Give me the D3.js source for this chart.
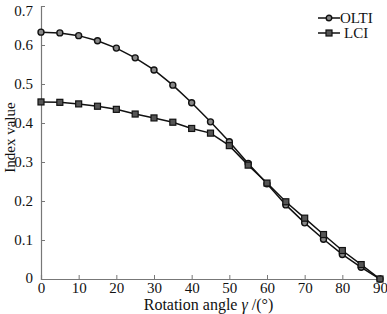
<!DOCTYPE html>
<html>
<head>
<meta charset="utf-8">
<script src="https://cdn.jsdelivr.net/npm/d3@7"></script>
<style>
  body { margin: 0; background: #fff; }
  text { font-family: "Liberation Serif", "DejaVu Serif", serif; fill: #111; }
</style>
</head>
<body>
<div id="chart"></div>
<script>
// data
var angles = [0, 5, 10, 15, 20, 25, 30, 35, 40, 45, 50, 55, 60, 65, 70, 75, 80, 85, 90];
var olti = [0.633, 0.631, 0.624, 0.611, 0.592, 0.567, 0.536, 0.497, 0.452, 0.403, 0.352, 0.296, 0.244, 0.190, 0.144, 0.102, 0.063, 0.030, 0.0];
var lci  = [0.454, 0.453, 0.449, 0.443, 0.435, 0.423, 0.413, 0.402, 0.386, 0.374, 0.342, 0.292, 0.246, 0.198, 0.156, 0.114, 0.073, 0.037, 0.0];
var xTicks = [0, 10, 20, 30, 40, 50, 60, 70, 80, 90];
var yTicks = [0, 0.1, 0.2, 0.3, 0.4, 0.5, 0.6, 0.7];

var width = 387, height = 314;
var margin = {top: 6, right: 7, bottom: 35, left: 41};
var w = width - margin.left - margin.right,
    h = height - margin.top - margin.bottom;

var svg = d3.select("#chart")
  .append("svg")
    .attr("width", width)
    .attr("height", height)
  .append("g")
    .attr("transform", "translate(" + margin.left + "," + margin.top + ")");

var x = d3.scaleLinear().domain([0, 90]).range([0, w]);
var y = d3.scaleLinear().domain([0, 0.7]).range([h, 0]);

// axes, ticks pointing inward
var xAxis = svg.append("g")
  .attr("transform", "translate(0," + h + ")")
  .call(d3.axisBottom(x).tickValues(xTicks).tickSize(-4).tickPadding(3).tickFormat(d3.format("d")));
var yAxis = svg.append("g")
  .call(d3.axisLeft(y).tickValues(yTicks).tickSize(-4).tickPadding(8)
        .tickFormat(function(d) { return d === 0 ? "0" : d3.format(".1f")(d); }));

[xAxis, yAxis].forEach(function(a) {
  a.select(".domain").attr("stroke", "#777").attr("stroke-width", 1.2);
  a.selectAll(".tick line").attr("stroke", "#777");
  a.selectAll("text").style("font-size", "15px").attr("fill", "#111")
    .style("font-family", "Liberation Serif, serif");
});
xAxis.selectAll("text").attr("dy", "0.75em");
// top label sits a little below its tick, bottom "0" a little above
yAxis.selectAll(".tick text").filter(function(d) { return d === 0.7; }).attr("dy", "0.6em");
yAxis.selectAll(".tick text").filter(function(d) { return d === 0; }).attr("dy", "0.2em");

// lines
var line = d3.line()
  .x(function(d, i) { return x(angles[i]); })
  .y(function(d) { return y(d); });

svg.append("path").datum(olti)
  .attr("fill", "none").attr("stroke", "#111").attr("stroke-width", 1.5)
  .attr("d", line);
svg.append("path").datum(lci)
  .attr("fill", "none").attr("stroke", "#111").attr("stroke-width", 1.5)
  .attr("d", line);

// markers
svg.selectAll(".olti").data(olti).enter().append("circle")
  .attr("class", "olti")
  .attr("cx", function(d, i) { return x(angles[i]); })
  .attr("cy", function(d) { return y(d); })
  .attr("r", 3)
  .attr("fill", "#888").attr("stroke", "#111").attr("stroke-width", 1.4);

svg.selectAll(".lci").data(lci).enter().append("rect")
  .attr("class", "lci")
  .attr("x", function(d, i) { return x(angles[i]) - 3; })
  .attr("y", function(d) { return y(d) - 3; })
  .attr("width", 6).attr("height", 6)
  .attr("fill", "#555").attr("stroke", "#111").attr("stroke-width", 1.2);

// legend
var legend = svg.append("g").attr("transform", "translate(" + (318 - margin.left) + "," + (18 - margin.top) + ")");
legend.append("line").attr("x1", 0).attr("x2", 22).attr("y1", 0).attr("y2", 0)
  .attr("stroke", "#111").attr("stroke-width", 1.5);
legend.append("circle").attr("cx", 11).attr("cy", 0).attr("r", 2.8)
  .attr("fill", "#888").attr("stroke", "#111").attr("stroke-width", 1.4);
legend.append("text").attr("x", 22).attr("y", 5).style("font-size", "15px").text("OLTI");
legend.append("line").attr("x1", 0).attr("x2", 22).attr("y1", 15).attr("y2", 15)
  .attr("stroke", "#111").attr("stroke-width", 1.5);
legend.append("rect").attr("x", 8).attr("y", 12).attr("width", 6).attr("height", 6)
  .attr("fill", "#555").attr("stroke", "#111").attr("stroke-width", 1.2);
legend.append("text").attr("x", 26).attr("y", 20).style("font-size", "15px").text("LCI");

// axis titles
var xt = svg.append("text")
  .attr("x", w / 2 - 2)
  .attr("y", h + 31)
  .attr("text-anchor", "middle")
  .style("font-size", "16px");
xt.append("tspan").text("Rotation angle  ");
xt.append("tspan").style("font-style", "italic").text("γ");
xt.append("tspan").text(" /(°)");

svg.append("text")
  .attr("transform", "rotate(-90)")
  .attr("x", -h / 2 + 5)
  .attr("y", -26)
  .attr("text-anchor", "middle")
  .style("font-size", "15px")
  .text("Index value");
</script>
</body>
</html>
